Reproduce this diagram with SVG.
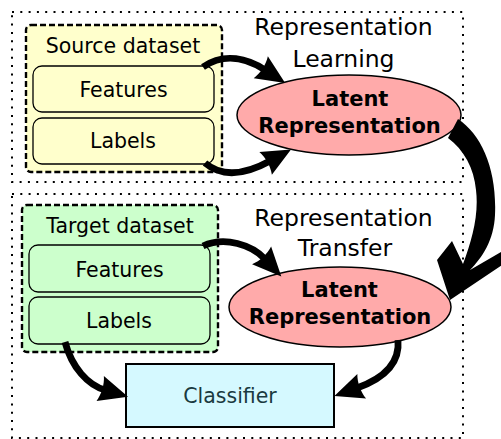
<svg xmlns="http://www.w3.org/2000/svg" width="501" height="439" viewBox="0 0 501 439">
  <defs>
    <style>
      .frame { fill: none; stroke: #000; stroke-width: 2; stroke-dasharray: 2 6.3; }
      .set { stroke: #000; stroke-width: 2.4; stroke-dasharray: 6 3; }
      .src { fill: #ffffcc; }
      .tgt { fill: #ccffcc; }
      .item { stroke: #000; stroke-width: 1.3; }
      .lat { fill: #ffaaaa; stroke: #000; stroke-width: 1.5; }
      .clf { fill: #d5f9ff; stroke: #000; stroke-width: 2; }
      text { font-family: "DejaVu Sans", "Liberation Sans", sans-serif; text-anchor: middle; fill: #000; }
      .t { font-size: 20.5px; }
      .h { font-size: 23.5px; }
      .b { font-size: 21px; font-weight: bold; }
      .arrow { fill: none; stroke: #000; stroke-width: 6.8; marker-end: url(#head); }
    </style>
    <marker id="head" markerUnits="userSpaceOnUse" markerWidth="60" markerHeight="60"
            viewBox="-30 -30 60 60" refX="0" refY="0" orient="auto" overflow="visible">
      <path d="M24,0 L-5,-13 C-2,-5 -2,5 -5,13 Z" fill="#000"/>
    </marker>
  </defs>

  <!-- learning stage frame -->
  <g id="learning-frame">
    <rect class="frame" x="12" y="12" width="451" height="170"/>
    <text class="h" x="343.5" y="35">Representation</text>
    <text class="h" x="343.5" y="67">Learning</text>
  </g>

  <!-- transfer stage frame -->
  <g id="transfer-frame">
    <rect class="frame" x="12" y="194" width="451" height="244"/>
    <text class="h" x="343.5" y="226">Representation</text>
    <text class="h" x="345" y="256">Transfer</text>
  </g>

  <g id="source-dataset">
    <rect class="set src" x="26" y="25" width="196" height="147" rx="5"/>
    <text class="t" x="123" y="53">Source dataset</text>
  </g>
  <g id="source-features">
    <rect class="item src" x="33" y="66" width="181" height="46" rx="9"/>
    <text class="t" x="123.5" y="97">Features</text>
  </g>
  <g id="source-labels">
    <rect class="item src" x="33" y="118" width="181" height="46" rx="9"/>
    <text class="t" x="123" y="148">Labels</text>
  </g>

  <g id="latent-learning">
    <ellipse class="lat" cx="349" cy="115" rx="112" ry="40"/>
    <text class="b" x="350" y="106">Latent</text>
    <text class="b" x="349.5" y="133">Representation</text>
  </g>

  <g id="target-dataset">
    <rect class="set tgt" x="22" y="205" width="196" height="147" rx="5"/>
    <text class="t" x="120" y="233">Target dataset</text>
  </g>
  <g id="target-features">
    <rect class="item tgt" x="29" y="245" width="181" height="47" rx="9"/>
    <text class="t" x="119.5" y="277">Features</text>
  </g>
  <g id="target-labels">
    <rect class="item tgt" x="29" y="297" width="181" height="47" rx="9"/>
    <text class="t" x="119" y="328">Labels</text>
  </g>

  <g id="latent-transfer">
    <ellipse class="lat" cx="340" cy="307" rx="111" ry="40"/>
    <text class="b" x="339.5" y="297">Latent</text>
    <text class="b" x="340" y="323.5">Representation</text>
  </g>

  <g id="classifier">
    <rect class="clf" x="126" y="364" width="208" height="63"/>
    <text class="t" x="230" y="403" style="fill:#1a3a40">Classifier</text>
  </g>

  <g id="connectors">
    <path class="arrow" d="M203,67 C225,52 248,59 265,70"/>
    <path class="arrow" d="M205,163 C225,180 250,172 270,161"/>
    <path class="arrow" d="M203,246 C225,236 252,245 265,259"/>
    <path class="arrow" d="M65,342 C72,368 88,385 105,390"/>
    <path class="arrow" d="M398,340 C400,362 385,378 357,388"/>
    <!-- wide transfer arrow between the two latent representations -->
    <path fill="#000" d="M458,119 C482,135 497,170 495,215 C494,240 482,258 470,270 L508,248 L511,259 L450,300 L437,260 L452,241 L463,264 C472,240 479,215 476,190 C474,168 464,150 448,138 Z"/>
  </g>
</svg>
